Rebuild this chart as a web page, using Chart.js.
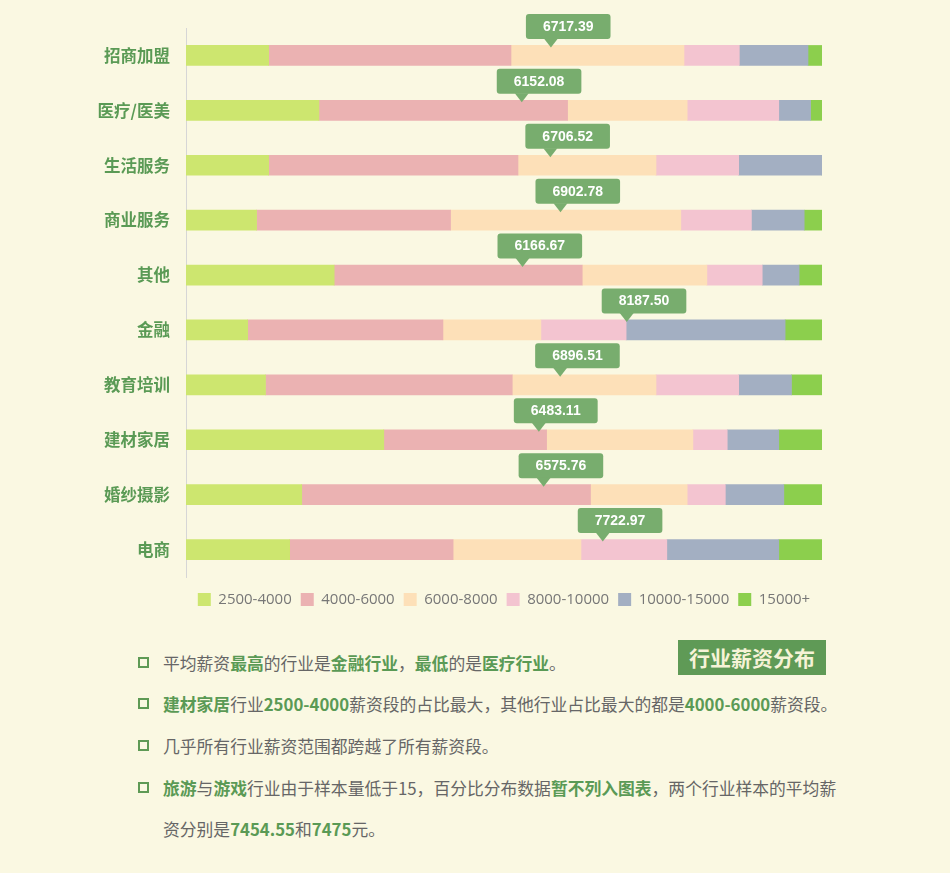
<!DOCTYPE html>
<html>
<head>
<meta charset="utf-8">
<script src="https://cdn.jsdelivr.net/npm/chart.js@4"></script>
<style>
  html, body { margin:0; padding:0; }
  body { width:950px; height:873px; background:#faf8e2; position:relative; overflow:hidden;
         font-family:"Noto Sans CJK SC","Noto Sans",sans-serif; }
  #wrap { position:absolute; left:0; top:0; width:950px; height:611px; }
  .line { position:absolute; left:138px; height:42px; line-height:42px; font-size:16.8px; color:#666; white-space:nowrap; }
  .line .sq { position:absolute; left:0; top:15px; width:7px; height:7px; border:2.5px solid #5e9a55; }
  .line .tx { position:absolute; left:25px; top:0; }
  .line b { color:#5a9a55; font-weight:bold; }
  #title { position:absolute; left:678px; top:640px; width:148px; height:35px; background:#5f9a56;
           color:#f6f3d6; font-weight:bold; font-size:21px; line-height:35px; text-align:center; }
</style>
</head>
<body>
<div id="wrap"><canvas id="c"></canvas></div>
<div id="title">行业薪资分布</div>
<div class="line" style="top:642px"><span class="sq"></span><span class="tx">平均薪资<b>最高</b>的行业是<b>金融行业</b>，<b>最低</b>的是<b>医疗行业</b>。</span></div>
<div class="line" style="top:683px"><span class="sq"></span><span class="tx"><b>建材家居</b>行业<b>2500-4000</b>薪资段的占比最大，其他行业占比最大的都是<b>4000-6000</b>薪资段。</span></div>
<div class="line" style="top:725px"><span class="sq"></span><span class="tx">几乎所有行业薪资范围都跨越了所有薪资段。</span></div>
<div class="line" style="top:767px"><span class="sq"></span><span class="tx"><b>旅游</b>与<b>游戏</b>行业由于样本量低于15，百分比分布数据<b>暂不列入图表</b>，两个行业样本的平均薪</span></div>
<div class="line" style="top:808px"><span class="tx">资分别是<b>7454.55</b>和<b>7475</b>元。</span></div>
<script>
const categories = ['招商加盟','医疗/医美','生活服务','商业服务','其他','金融','教育培训','建材家居','婚纱摄影','电商'];
const seriesNames = ['2500-4000','4000-6000','6000-8000','8000-10000','10000-15000','15000+'];
const s2500_4000   = [13.0, 20.9, 13.0, 11.1, 23.3,  9.7, 12.5, 31.1, 18.2, 16.3];
const s4000_6000   = [38.1, 39.1, 39.2, 30.5, 39.0, 30.7, 38.8, 25.6, 45.4, 25.7];
const s6000_8000   = [27.2, 18.8, 21.7, 36.2, 19.6, 15.4, 22.6, 23.0, 15.2, 20.1];
const s8000_10000  = [ 8.7, 14.4, 13.0, 11.1,  8.7, 13.4, 13.0,  5.4,  6.0, 13.5];
const s10000_15000 = [10.8,  5.0, 13.1,  8.3,  5.8, 25.0,  8.3,  8.1,  9.2, 17.6];
const s15000plus   = [ 2.2,  1.8,  0.0,  2.8,  3.6,  5.8,  4.8,  6.8,  6.0,  6.8];
const avgSalary    = [6717.39, 6152.08, 6706.52, 6902.78, 6166.67, 8187.50, 6896.51, 6483.11, 6575.76, 7722.97];

const seriesValues = [s2500_4000, s4000_6000, s6000_8000, s8000_10000, s10000_15000, s15000plus];
const colors = ['#cde66f','#ebb2b2','#fde0b8','#f3c4d0','#a3afc2','#8ccf4d'];

const calloutPlugin = {
  id: 'callouts',
  afterLayout(chart) {
    chart.legend.top += 6; chart.legend.bottom += 6;
  },
  afterDatasetsDraw(chart) {
    const ctx = chart.ctx;
    const xs = chart.scales.x2, ys = chart.scales.y;
    ctx.save();
    ctx.font = 'bold 14px "Liberation Sans", "Noto Sans", sans-serif';
    avgSalary.forEach((v, i) => {
      const px = xs.getPixelForValue(v);
      const barTop = ys.getPixelForValue(i) - 10;
      const txt = v.toFixed(2);
      const tw = ctx.measureText(txt).width;
      const w = tw + 34, h = 25;
      const bx = px - 25, bb = barTop - 6.5, by = bb - h;
      ctx.fillStyle = '#78ad6e';
      ctx.beginPath();
      ctx.roundRect(bx, by, w, h, 3);
      ctx.fill();
      ctx.beginPath();
      ctx.moveTo(px - 7, bb - 0.5);
      ctx.lineTo(px + 7, bb - 0.5);
      ctx.lineTo(px, bb + 8.5);
      ctx.closePath();
      ctx.fill();
      ctx.fillStyle = '#ffffff';
      ctx.textAlign = 'center';
      ctx.textBaseline = 'middle';
      ctx.fillText(txt, bx + w / 2, by + h / 2 + 0.5);
    });
    ctx.restore();
  }
};

new Chart(document.getElementById('c'), {
  type: 'bar',
  data: {
    labels: categories,
    datasets: seriesNames.map((n, k) => ({
      label: n,
      data: seriesValues[k],
      backgroundColor: colors[k],
      borderWidth: 0,
      barThickness: 20
    }))
  },
  options: {
    indexAxis: 'y',
    responsive: true,
    maintainAspectRatio: false,
    animation: false,
    layout: { padding: { top: 28, right: 128, left: 0, bottom: 0 } },
    scales: {
      x: { stacked: true, min: 0, max: 100, display: false },
      x2: { type: 'linear', axis: 'x', position: 'top', min: -360, max: 11975, display: false },
      y: {
        stacked: true,
        afterFit(s) { s.width = 186; },
        grid: { display: true, color: 'rgba(0,0,0,0)', drawTicks: false },
        border: { display: true, color: '#d6d6d6', width: 1 },
        ticks: { padding: 16, color: '#5a9a55', font: { family: '"Noto Sans CJK SC", sans-serif', size: 16.5, weight: 'bold' } }
      }
    },
    plugins: {
      tooltip: { enabled: false },
      legend: {
        position: 'bottom',
        fullSize: false,
        align: 'center',
        labels: { boxWidth: 13, boxHeight: 13, padding: 9, color: '#777', font: { family: '"Open Sans", sans-serif', size: 15 } }
      }
    }
  },
  plugins: [calloutPlugin]
});
</script>
</body>
</html>
